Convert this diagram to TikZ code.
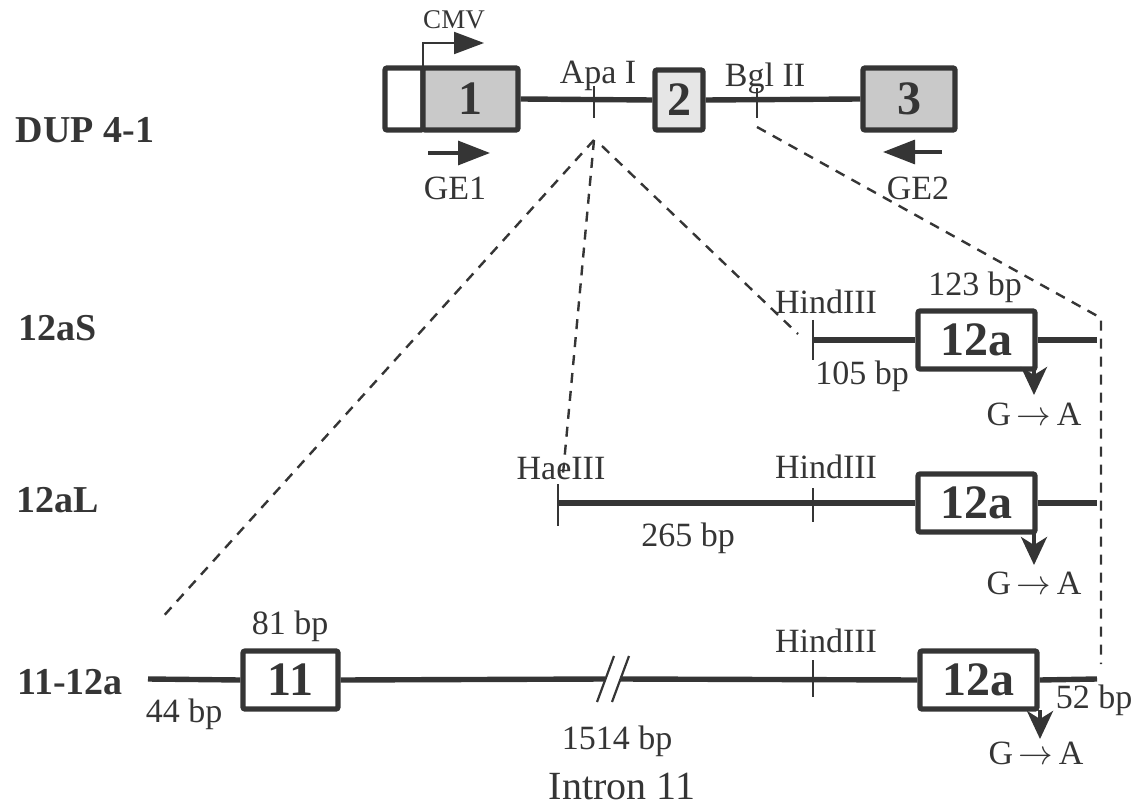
\documentclass[tikz,border=0pt]{standalone}
\usepackage{fontspec}
\setmainfont{Liberation Serif}
\usetikzlibrary{arrows.meta}
\definecolor{ink}{HTML}{353535}
\definecolor{shadeA}{HTML}{C9C9C9}
\definecolor{shadeB}{HTML}{E6E6E6}
\begin{document}
\begin{tikzpicture}[x=0.5pt,y=-0.5pt,
  every node/.style={text=ink},
  gline/.style={draw=ink,line width=2.7pt},
  tickmark/.style={draw=ink,line width=1.1pt},
  exon/.style={draw=ink,line width=2.6pt,rectangle,rounded corners=1pt,inner sep=0pt,
    font=\bfseries\fontsize{24}{26}\selectfont},
  guide/.style={draw=ink,line width=1.2pt,dash pattern=on 5pt off 4pt},
  lbl/.style={font=\fontsize{17}{19}\selectfont,inner sep=0pt},
  rowlbl/.style={font=\bfseries\fontsize{19}{21}\selectfont,inner sep=0pt},
  primer/.style={draw=ink,line width=1.6pt,-{Triangle[length=16pt,width=12pt]}},
  mutarrow/.style={draw=ink,line width=2pt,-{Stealth[length=14pt,width=13pt,inset=4pt]}}]
\useasboundingbox (0,0) rectangle (1139,807);

% ---------- row labels ----------
\node[rowlbl] (rDUP) at (85,130) {DUP 4-1};
\node[rowlbl] (rS) at (58,328) {12aS};
\node[rowlbl] (rL) at (58,500) {12aL};
\node[rowlbl] (r11) at (70,682) {11-12a};

% ---------- DUP 4-1 construct ----------
\node[exon,minimum width=19pt,minimum height=31pt] (b0) at (404,99) {};
\node[exon,fill=shadeA,minimum width=47.5pt,minimum height=31pt] (b1) at (470.5,99) {1};
\node[exon,fill=shadeB,minimum width=24pt,minimum height=30pt] (b2) at (679,100) {2};
\node[exon,fill=shadeA,minimum width=46pt,minimum height=31pt] (b3) at (909,99) {3};
\draw[gline] (b1.east) -- (b2.west);
\draw[gline] (b2.east) -- (b3.west);
\draw[tickmark] (594,86) -- (594,118);
\draw[tickmark] (757,88) -- (757,118);
\node[lbl] (tApa) at (598,76) {Apa I};
\node[lbl] (tBgl) at (765,78) {Bgl II};

% CMV promoter
\coordinate (cmvA) at (423,68);
\coordinate (cmvB) at (423,43);
\coordinate (cmvC) at (484,43);
\draw[draw=ink,line width=1pt,-{Triangle[length=15pt,width=11pt]}] (cmvA) -- (cmvB) -- (cmvC);
\node[lbl,font=\fontsize{13.5}{15}\selectfont] (tCMV) at (454,20) {CMV};

% primers
\coordinate (ge1a) at (428,153);
\coordinate (ge1b) at (490,153);
\coordinate (ge2a) at (942,152);
\coordinate (ge2b) at (883,152);
\draw[primer] (ge1a) -- (ge1b);
\draw[primer] (ge2a) -- (ge2b);
\node[lbl] (tGE1) at (455,188) {GE1};
\node[lbl] (tGE2) at (918,188) {GE2};

% ---------- 12aS ----------
\coordinate (hS) at (813,340);
\node[exon,minimum width=58.5pt,minimum height=29pt] (eS) at (976.5,340) {12a};
\coordinate (endS) at (1097,340);
\draw[gline] (hS) -- (eS.west);
\draw[gline] (eS.east) -- (endS);
\draw[tickmark] (813,320) -- (813,360);
\node[lbl] (tHS) at (826,302) {HindIII};
\node[lbl] (t123) at (975,287) {123 bp};
\node[lbl] (t105) at (862,376) {105 bp};
\coordinate (mS0) at (1034,370);
\coordinate (mS1) at (1034,395);
\draw[mutarrow] (mS0) -- (mS1);
\node[lbl] (gaS) at (1034,414) {G\,$\rightarrow$\,A};

% ---------- 12aL ----------
\coordinate (hae) at (558,503);
\node[exon,minimum width=58.5pt,minimum height=29pt] (eL) at (976.5,503) {12a};
\coordinate (endL) at (1097,503);
\draw[gline] (hae) -- (eL.west);
\draw[gline] (eL.east) -- (endL);
\draw[tickmark] (558,484) -- (558,526);
\draw[tickmark] (813,488) -- (813,522);
\node[lbl] (tHae) at (561,469) {HaeIII};
\node[lbl] (tHL) at (826,467) {HindIII};
\node[lbl] (t265) at (688,538) {265 bp};
\coordinate (mL0) at (1034,533);
\coordinate (mL1) at (1034,565);
\draw[mutarrow] (mL0) -- (mL1);
\node[lbl] (gaL) at (1034,583) {G\,$\rightarrow$\,A};

% ---------- 11-12a ----------
\coordinate (start11) at (148,679);
\node[exon,minimum width=47.5pt,minimum height=29pt] (e11) at (290.5,680) {11};
\node[exon,minimum width=58.5pt,minimum height=29pt] (e12) at (978.5,680) {12a};
\coordinate (brkL) at (605,679);
\coordinate (brkR) at (620,679);
\coordinate (end11) at (1097,679);
\draw[gline] (start11) -- (e11.west);
\draw[gline] (e11.east) -- (brkL);
\draw[gline] (brkR) -- (e12.west);
\draw[gline] (e12.east) -- (end11);
\draw[draw=ink,line width=1.1pt] (597,702) -- (614,656);
\draw[draw=ink,line width=1.1pt] (612,702) -- (629,656);
\draw[tickmark] (813,660) -- (813,697);
\node[lbl] (tH11) at (826,641) {HindIII};
\node[lbl] (t81) at (290,626) {81 bp};
\node[lbl] (t44) at (184,714) {44 bp};
\node[lbl] (t52) at (1094,700) {52 bp};
\node[lbl] (t1514) at (617,741) {1514 bp};
\node[lbl,font=\fontsize{20}{22}\selectfont] (tIntron) at (622,786) {Intron 11};
\coordinate (m0) at (1040,710);
\coordinate (m1) at (1040,739);
\draw[mutarrow] (m0) -- (m1);
\node[lbl] (ga11) at (1036,753) {G\,$\rightarrow$\,A};

% ---------- expansion guides ----------
\coordinate (apaLow) at (594,140);
\coordinate (apaR) at (602,146);
\coordinate (bglLow) at (757,127);
\coordinate (gL11) at (160,620);
\coordinate (gHae) at (563,474);
\coordinate (gHS) at (798,334);
\coordinate (gCorner) at (1101,318);
\coordinate (gEnd) at (1101,664);
\draw[guide] (apaLow) -- (gL11);
\draw[guide] (apaLow) -- (gHae);
\draw[guide] (apaR) -- (gHS);
\draw[guide] (bglLow) -- (gCorner) -- (gEnd);
\end{tikzpicture}
\end{document}
